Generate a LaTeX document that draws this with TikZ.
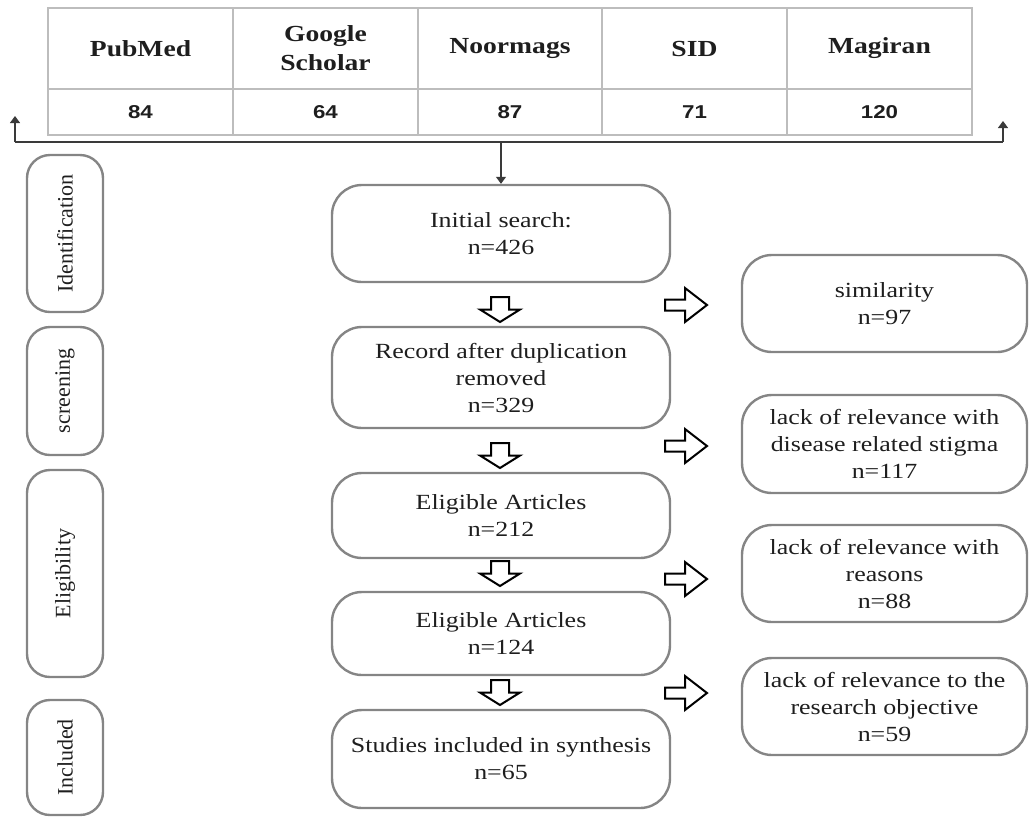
\documentclass[tikz,border=0pt]{standalone}
\usepackage{fontspec}
\setmainfont{Liberation Serif}[FakeStretch=1.2]
\newfontfamily\stagefont{Liberation Serif}
\newfontfamily\numfont{Liberation Sans}[FakeStretch=1.2]
\usepackage{tikz}
\usetikzlibrary{calc,positioning,arrows.meta}
\usepackage{xcolor}
\definecolor{BoxGray}{HTML}{858585}
\definecolor{TableGray}{HTML}{BDBDBD}
\definecolor{LinkGray}{HTML}{3A3A3A}
\definecolor{TextGray}{HTML}{1E1E1E}

\begin{document}
\begin{tikzpicture}[x=0.5pt, y=-0.5pt,
				hdcell/.style={draw=TableGray, line width=0.7pt,
					minimum width=92.5pt, minimum height=40.5pt, inner sep=0pt,
					align=center, text=TextGray, font=\bfseries\fontsize{11.5}{14.5}\selectfont},
				numcell/.style={draw=TableGray, line width=0.7pt,
					minimum width=92.5pt, minimum height=23pt, inner sep=0pt,
					text=TextGray, font=\numfont\bfseries\fontsize{9.3}{11}\selectfont},
				stagebox/.style={draw=BoxGray, line width=1.2pt, rounded corners=11.5pt,
					minimum height=38pt, inner sep=0pt, rotate=90,
					text=TextGray, font=\stagefont\fontsize{11}{13}\selectfont},
				flowbox/.style={draw=BoxGray, line width=1.2pt, rounded corners=15pt,
					minimum width=169pt, inner sep=0pt,
					align=center, text=TextGray, font=\fontsize{10.8}{13.5}\selectfont},
				sidebox/.style={flowbox, minimum width=142.5pt},
				link/.style={LinkGray, line width=0.6pt},
				arrow/.style={link, -{Triangle[length=3.5pt,width=5pt]}},
				hollow/.style={draw=black, line width=1pt, fill=white, line join=miter},
				downarr/.pic={\draw[hollow] (-9,-12.5) -- (9,-12.5) -- (9,0) -- (20,0)
					-- (0,12.5) -- (-20,0) -- (-9,0) -- cycle;},
				rightarr/.pic={\draw[hollow] (-21,-5.5) -- (-1,-5.5) -- (-1,-17) -- (21,0)
					-- (-1,17) -- (-1,5.5) -- (-21,5.5) -- cycle;}
				]
				\useasboundingbox (0,0) rectangle (1030,816);
				% databases
				\node[hdcell] (hPubmed) at (140.5,48.5) {PubMed};
				\node[hdcell] (hScholar) at (325.5,48.5) {Google\\Scholar};
				\node[hdcell] (hNoormags) at (510,48.5) {Noormags};
				\node[hdcell] (hSid) at (694.5,48.5) {SID};
				\node[hdcell] (hMagiran) at (879.5,48.5) {Magiran};
				\node[numcell] (nPubmed) at (140.5,112) {84};
				\node[numcell] (nScholar) at (325.5,112) {64};
				\node[numcell] (nNoormags) at (510,112) {87};
				\node[numcell] (nSid) at (694.5,112) {71};
				\node[numcell] (nMagiran) at (879.5,112) {120};
				% stages
				\node[stagebox, minimum width=78.5pt] (ident) at (65,233.5) {Identification};
				\node[stagebox, minimum width=64pt] (screen) at (65,391) {screening};
				\node[stagebox, minimum width=103.5pt] (eligib) at (65,573.5) {Eligibility};
				\node[stagebox, minimum width=57.5pt] (incl) at (65,757.5) {Included};
				% main flow
				\node[flowbox, minimum height=48.5pt] (init) at (501,233.5) {Initial search:\\n=426};
				\node[flowbox, minimum height=50.5pt] (record) at (501,377.5) {Record after duplication\\removed\\n=329};
				\node[flowbox, minimum height=42.5pt] (eligA) at (501,515.5) {Eligible Articles\\n=212};
				\node[flowbox, minimum height=41.5pt] (eligB) at (501,633.5) {Eligible Articles\\n=124};
				\node[flowbox, minimum height=49pt] (synth) at (501,759) {Studies included in synthesis\\n=65};
				% excluded
				\node[sidebox, minimum height=48.5pt] (simil) at (884.5,303.5) {similarity\\n=97};
				\node[sidebox, minimum height=49pt] (stigma) at (884.5,444) {lack of relevance with\\disease related stigma\\n=117};
				\node[sidebox, minimum height=48.5pt] (reasons) at (884.5,573.5) {lack of relevance with\\reasons\\n=88};
				\node[sidebox, minimum height=48.5pt] (objective) at (884.5,706.5) {lack of relevance to the\\research objective\\n=59};
				% hollow arrows
				\pic (dA) at (500,309.5) {downarr};
				\pic (dB) at (500,455.5) {downarr};
				\pic (dC) at (500,573.5) {downarr};
				\pic (dD) at (500,692.5) {downarr};
				\pic (rA) at (686,305) {rightarr};
				\pic (rB) at (686,446) {rightarr};
				\pic (rC) at (686,579) {rightarr};
				\pic (rD) at (686,693) {rightarr};
				% bus under the table
				\coordinate (busL) at (15,142);
				\coordinate (busR) at (1003,142);
				\coordinate (upL) at (15,116);
				\coordinate (upR) at (1003,121);
				\draw[link] (busL) -- (busR);
				\draw[arrow] (busL) -- (upL);
				\draw[arrow] (busR) -- (upR);
				\draw[arrow] (init |- busL) -- (init);
			\end{tikzpicture}
\end{document}
